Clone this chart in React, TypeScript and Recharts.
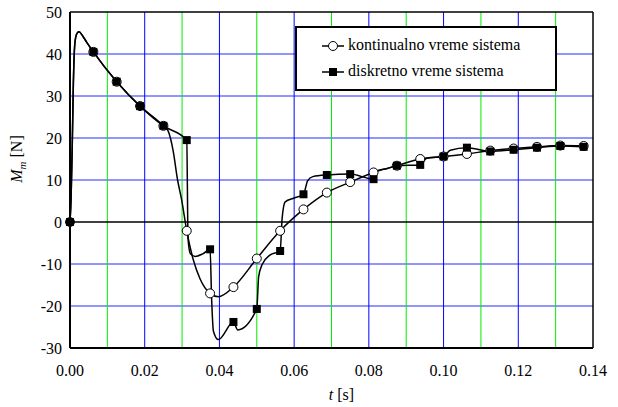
import React from 'react';
import {
  ComposedChart,
  XAxis,
  YAxis,
  Line,
  ReferenceLine,
  Label,
} from 'recharts';

const FONT = '"Liberation Serif", "Times New Roman", serif';

// axis ticks
const xTicks = [0, 0.02, 0.04, 0.06, 0.08, 0.1, 0.12, 0.14];
const xMinorGrid = [0.01, 0.03, 0.05, 0.07, 0.09, 0.11, 0.13];
const yTicks = [-30, -20, -10, 0, 10, 20, 30, 40, 50];

// kontinualno vreme sistema - curve
const contT = [
  0, 0.0003, 0.0006, 0.0009, 0.0013, 0.0018, 0.0024, 0.0034, 0.0044, 0.00625,
  0.0125, 0.01875, 0.025, 0.0262, 0.0276, 0.0288, 0.0299, 0.03125, 0.033,
  0.0348, 0.0375, 0.0397, 0.04375, 0.05, 0.05625, 0.0625, 0.06875, 0.075,
  0.08125, 0.0875, 0.09375, 0.1, 0.10625, 0.1125, 0.11875, 0.125, 0.13125,
  0.1375,
];
const contV = [
  0, 6, 18, 33, 42.5, 44.8, 45.3, 44.3, 42.9, 40.5, 33.4, 27.6, 22.9, 21.8, 17,
  10, 5.2, -2.1, -9, -13.5, -17, -17.8, -15.5, -8.7, -2.1, 3, 7, 9.5, 11.8,
  13.4, 15, 15.6, 16.2, 17, 17.5, 17.9, 18.2, 18.1,
];

// diskretno vreme sistema - curve
const discT = [
  0, 0.0003, 0.0006, 0.0009, 0.0013, 0.0018, 0.0024, 0.0034, 0.0044, 0.00625,
  0.0125, 0.01875, 0.025, 0.03125, 0.0316, 0.0322, 0.0335, 0.0355, 0.0375,
  0.0379, 0.0384, 0.0397, 0.04375, 0.0449, 0.05, 0.0505, 0.0514, 0.0535,
  0.05625, 0.0568, 0.0576, 0.06, 0.0625, 0.0636, 0.065, 0.06875, 0.075,
  0.08125, 0.0822, 0.0848, 0.0875, 0.09375, 0.0955, 0.1, 0.1018, 0.10625,
  0.1125, 0.11875, 0.125, 0.13125, 0.1375,
];
const discV = [
  0, 6, 18, 33, 42.5, 44.8, 45.3, 44.3, 42.9, 40.5, 33.4, 27.6, 22.9, 19.5, -4,
  -7.5, -8.2, -7.6, -6.5, -18, -26, -28, -23.8, -25.7, -20.7, -13, -10.2, -7.9,
  -6.9, 1, 4.8, 5.7, 6.6, 9.8, 10.8, 11.2, 11.4, 10.2, 12.2, 12.7, 13.4, 13.6,
  15.2, 15.6, 17.1, 17.7, 16.8, 17.2, 17.7, 18.1, 17.9,
];

// marker samples
const markT = [
  0, 0.00625, 0.0125, 0.01875, 0.025, 0.03125, 0.0375, 0.04375, 0.05, 0.05625,
  0.0625, 0.06875, 0.075, 0.08125, 0.0875, 0.09375, 0.1, 0.10625, 0.1125,
  0.11875, 0.125, 0.13125, 0.1375,
];
const markCont = [
  0, 40.5, 33.4, 27.6, 22.9, -2.1, -17, -15.5, -8.7, -2.1, 3, 7, 9.5, 11.8,
  13.4, 15, 15.6, 16.2, 17, 17.5, 17.9, 18.2, 18.1,
];
const markDisc = [
  0, 40.5, 33.4, 27.6, 22.9, 19.5, -6.5, -23.8, -20.7, -6.9, 6.6, 11.2, 11.4,
  10.2, 13.4, 13.6, 15.6, 17.7, 16.8, 17.2, 17.7, 18.1, 17.9,
];

const contData = contT.map((t, i) => ({ t, v: contV[i] }));
const discData = discT.map((t, i) => ({ t, v: discV[i] }));
const contMarks = markT.map((t, i) => ({ t, v: markCont[i] }));
const discMarks = markT.map((t, i) => ({ t, v: markDisc[i] }));

const CircleDot = (props: any) => {
  const { cx, cy, index } = props;
  return (
    <circle
      key={`c-${index}`}
      cx={cx}
      cy={cy}
      r={4.5}
      fill="#fff"
      stroke="#000"
      strokeWidth={1}
    />
  );
};

const SquareDot = (props: any) => {
  const { cx, cy, index } = props;
  return (
    <rect key={`s-${index}`} x={cx - 4} y={cy - 4} width={8} height={8} fill="#000" />
  );
};

const XTitle = (props: any) => {
  const { viewBox } = props;
  return (
    <text
      x={viewBox.x + viewBox.width / 2 + 10}
      y={400}
      textAnchor="middle"
      fontFamily={FONT}
      fontSize={16}
      fill="#000"
    >
      <tspan fontStyle="italic">t</tspan>
      <tspan> [s]</tspan>
    </text>
  );
};

const YTitle = () => (
  <text
    transform="translate(22,159) rotate(-90)"
    textAnchor="middle"
    fontFamily={FONT}
    fontSize={16}
    fill="#000"
  >
    <tspan fontStyle="italic">M</tspan>
    <tspan fontStyle="italic" fontSize={11} dy={4}>
      m
    </tspan>
    <tspan dy={-4}> [N]</tspan>
  </text>
);

const LegendBox = () => (
  <div
    style={{
      position: 'absolute',
      left: 295,
      top: 26,
      width: 258,
      height: 61,
      border: '2px solid #000',
      background: '#fff',
      fontFamily: FONT,
      fontSize: 16,
      color: '#000',
    }}
  >
    <svg width={258} height={61} style={{ position: 'absolute', left: 0, top: 0 }}>
      <line x1={25} y1={18} x2={47} y2={18} stroke="#000" strokeWidth={1.5} />
      <circle cx={36} cy={18} r={4.5} fill="#fff" stroke="#000" />
      <line x1={25} y1={44} x2={47} y2={44} stroke="#000" strokeWidth={1.5} />
      <rect x={32} y={40} width={8} height={8} fill="#000" />
    </svg>
    <div style={{ position: 'absolute', left: 51, top: 8, whiteSpace: 'nowrap' }}>
      kontinualno vreme sistema
    </div>
    <div style={{ position: 'absolute', left: 51, top: 34, whiteSpace: 'nowrap' }}>
      diskretno vreme sistema
    </div>
  </div>
);

const App = () => {
  return (
    <div style={{ position: 'absolute', left: 0, top: 0, width: 618, height: 407, background: '#fff' }}>
      <ComposedChart
        width={618}
        height={407}
        margin={{ top: 12, right: 25, bottom: 0, left: 0 }}
      >
        <XAxis
          type="number"
          dataKey="t"
          domain={[0, 0.14]}
          ticks={xTicks}
          interval={0}
          tickFormatter={(v: number) => v.toFixed(2)}
          tickLine={false}
          tickSize={0}
          tickMargin={17}
          height={59}
          axisLine={{ stroke: '#000', strokeWidth: 2 }}
          tick={{ fill: '#000', fontSize: 16, fontFamily: FONT }}
        >
          <Label content={<XTitle />} />
        </XAxis>
        <YAxis
          type="number"
          domain={[-30, 50]}
          ticks={yTicks}
          interval={0}
          tickLine={false}
          tickSize={0}
          tickMargin={8}
          width={70}
          axisLine={{ stroke: '#000', strokeWidth: 2 }}
          tick={{ fill: '#000', fontSize: 16, fontFamily: FONT }}
        >
          <Label content={<YTitle />} />
        </YAxis>

        {yTicks
          .filter((v) => v !== 0 && v !== -30 && v !== 50)
          .map((v) => (
            <ReferenceLine key={`h${v}`} y={v} stroke="#2828ff" strokeWidth={1} />
          ))}
        {xTicks
          .filter((v) => v !== 0 && v !== 0.14)
          .map((v) => (
            <ReferenceLine key={`vb${v}`} x={v} stroke="#0000ff" strokeWidth={1} />
          ))}
        {xMinorGrid.map((v) => (
          <ReferenceLine key={`vg${v}`} x={v} stroke="#00ee00" strokeWidth={1} />
        ))}
        <ReferenceLine y={0} stroke="#000" strokeWidth={1.5} />
        <ReferenceLine y={50} stroke="#000" strokeWidth={1.5} />
        <ReferenceLine x={0.14} stroke="#000" strokeWidth={1.5} />

        <Line
          data={contData}
          dataKey="v"
          type="monotone"
          stroke="#000"
          strokeWidth={1.5}
          dot={false}
          activeDot={false}
          isAnimationActive={false}
        />
        <Line
          data={discData}
          dataKey="v"
          type="monotone"
          stroke="#000"
          strokeWidth={1.5}
          dot={false}
          activeDot={false}
          isAnimationActive={false}
        />
        <Line
          data={contMarks}
          dataKey="v"
          stroke="none"
          dot={CircleDot}
          activeDot={false}
          isAnimationActive={false}
        />
        <Line
          data={discMarks}
          dataKey="v"
          stroke="none"
          dot={SquareDot}
          activeDot={false}
          isAnimationActive={false}
        />
      </ComposedChart>
      <LegendBox />
    </div>
  );
};

export default App;
